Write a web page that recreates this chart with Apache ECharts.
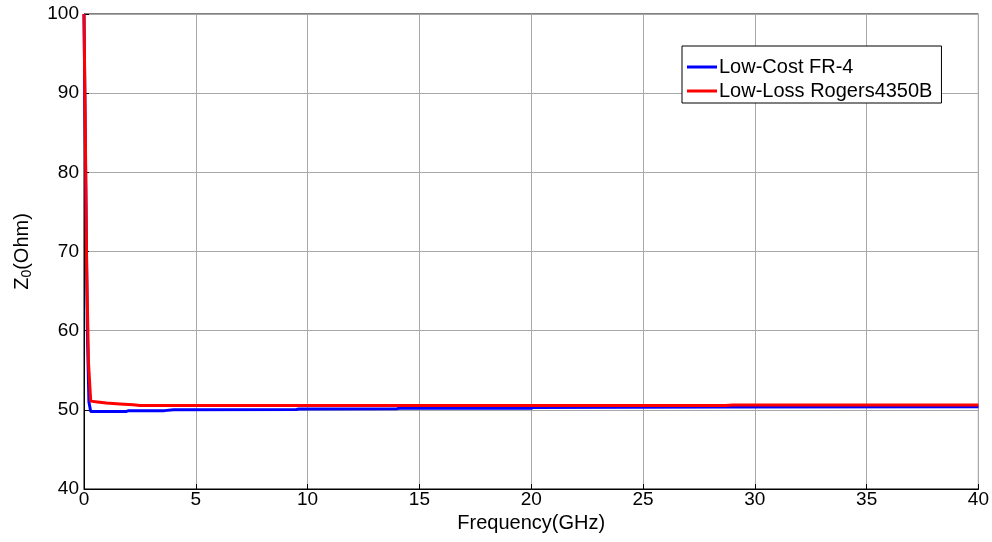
<!DOCTYPE html>
<html>
<head>
<meta charset="utf-8">
<script src="https://cdn.jsdelivr.net/npm/echarts@6/dist/echarts.min.js"></script>
<style>
  html, body { margin: 0; padding: 0; background: #fff; }
  #chart { width: 992px; height: 542px; }
</style>
</head>
<body>
<div id="chart"></div>
<script>
// frequency (GHz) / impedance (Ohm) pairs
const fr4Freq = [0, 0.08, 0.15, 0.22, 0.3, 1.0, 1.9, 2.0, 3.6, 4.0, 9.5, 9.6, 14.0, 14.1, 20.0, 20.1, 28.7, 40];
const fr4Z0 = [100, 78, 60, 51, 49.8, 49.8, 49.8, 49.9, 49.9, 50.0, 50.05, 50.1, 50.15, 50.2, 50.2, 50.3, 50.35, 50.4];

const rogersFreq = [0, 0.06, 0.12, 0.2, 0.3, 0.6, 1.0, 1.6, 2.2, 2.5, 10, 20, 28.7, 29, 40];
const rogersZ0 = [100, 85, 68, 56, 51.1, 51.0, 50.85, 50.75, 50.65, 50.55, 50.55, 50.55, 50.55, 50.6, 50.6];

const xTicks = { min: 0, max: 40, step: 5 };
const yTicks = { min: 40, max: 100, step: 10 };

const pairs = (xs, ys) => xs.map((x, i) => [x, ys[i]]);

const chart = echarts.init(document.getElementById('chart'));
const font = 'Liberation Sans, Arial, sans-serif';

chart.setOption({
  animation: false,
  backgroundColor: '#fff',
  grid: {
    left: 84,
    right: 13,
    top: 14,
    bottom: 53,
    show: true,
    borderColor: '#000',
    borderWidth: 1,
  },
  legend: {
    orient: 'vertical',
    left: 682,
    top: 46,
    padding: [11, 9, 2, 5],
    itemGap: 4,
    itemWidth: 30,
    itemHeight: 3,
    icon: 'rect',
    backgroundColor: '#fff',
    borderColor: '#000',
    borderWidth: 1,
    textStyle: { fontFamily: font, fontSize: 20, lineHeight: 20, color: '#000', padding: [0, 0, 0, -3] },
    data: ['Low-Cost FR-4', 'Low-Loss Rogers4350B'],
  },
  xAxis: {
    type: 'value',
    min: xTicks.min,
    max: xTicks.max,
    interval: xTicks.step,
    name: 'Frequency(GHz)',
    nameLocation: 'middle',
    nameGap: 20,
    nameTextStyle: { fontFamily: font, fontSize: 20, color: '#000' },
    axisLine: { onZero: false, lineStyle: { color: '#000' } },
    axisTick: { inside: true, length: 5, lineStyle: { color: '#000' } },
    axisLabel: { fontFamily: font, fontSize: 19, color: '#000', margin: 1 },
    splitLine: { show: true, lineStyle: { color: '#a8a8a8', width: 1 } },
  },
  yAxis: {
    type: 'value',
    min: yTicks.min,
    max: yTicks.max,
    interval: yTicks.step,
    name: '{a|Z}{b|0}{a|(Ohm)}',
    nameLocation: 'middle',
    nameGap: 50,
    nameRotate: 90,
    nameTextStyle: {
      rich: {
        a: { fontFamily: font, fontSize: 20, color: '#000' },
        b: { fontFamily: font, fontSize: 14, color: '#000', padding: [10, 0, 0, 0] },
      },
    },
    axisLine: { lineStyle: { color: '#000' } },
    axisTick: { inside: true, length: 5, lineStyle: { color: '#000' } },
    axisLabel: { fontFamily: font, fontSize: 19, color: '#000', margin: 5 },
    splitLine: { show: true, lineStyle: { color: '#a8a8a8', width: 1 } },
  },
  series: [
    {
      name: 'Low-Cost FR-4',
      type: 'line',
      data: pairs(fr4Freq, fr4Z0),
      showSymbol: false,
      lineStyle: { color: '#0000ff', width: 3 },
      itemStyle: { color: '#0000ff' },
      z: 2,
    },
    {
      name: 'Low-Loss Rogers4350B',
      type: 'line',
      data: pairs(rogersFreq, rogersZ0),
      showSymbol: false,
      lineStyle: { color: '#ff0000', width: 3 },
      itemStyle: { color: '#ff0000' },
      z: 3,
    },
  ],
});
</script>
</body>
</html>
